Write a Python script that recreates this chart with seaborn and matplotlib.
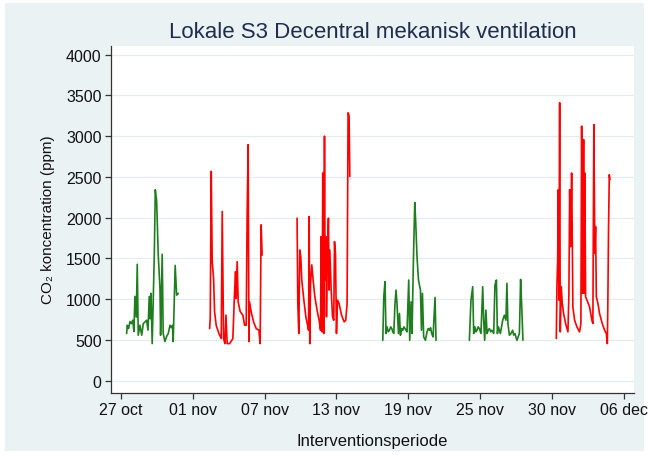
import numpy as np
import pandas as pd
import matplotlib
matplotlib.use("Agg")
import matplotlib.pyplot as plt
from matplotlib.patches import Rectangle
import seaborn as sns

# ---------------- data ----------------
title = "Lokale S3 Decentral mekanisk ventilation"
xlabel = "Interventionsperiode"
ylabel = "CO₂ koncentration (ppm)"
tick_labels = ["27 oct", "01 nov", "07 nov", "13 nov", "19 nov", "25 nov", "30 nov", "06 dec"]
y_ticks = [0, 500, 1000, 1500, 2000, 2500, 3000, 3500, 4000]

# week 1 (green)
g1_day = [0.62, 0.67, 0.78, 0.89, 1.00, 1.11, 1.21, 1.29, 1.40, 1.48, 1.56, 1.70, 1.84, 1.97,
          2.10, 2.24, 2.35, 2.45, 2.52, 2.59, 2.69, 2.86, 2.94, 3.05, 3.18, 3.32, 3.37, 3.50,
          3.58, 3.72, 3.85, 3.99, 4.13, 4.24, 4.34, 4.39, 4.55, 4.67, 4.80]
g1_co2 = [579, 680, 640, 726, 700, 742, 603, 1034, 780, 1428, 558, 680, 558, 701,
          720, 742, 620, 1034, 760, 1071, 455, 1542, 2343, 2203, 1542, 1132, 558, 1551,
          579, 480, 540, 579, 680, 650, 680, 480, 1415, 1050, 1071]

# week 2 (red)
r1_day = [7.34, 7.39, 7.47, 7.55, 7.66, 7.74, 7.87, 8.09, 8.28, 8.36, 8.47, 8.58, 8.66, 8.76,
          8.96, 9.22, 9.36, 9.44, 9.49, 9.57, 9.65, 9.81, 10.03, 10.17, 10.30, 10.38, 10.46,
          10.52, 10.57, 10.70, 10.90, 11.11, 11.33, 11.43, 11.51, 11.59]
r1_co2 = [640, 763, 2568, 1461, 1256, 846, 680, 579, 517, 2076, 517, 455, 804, 455,
          455, 517, 1091, 1338, 1009, 1461, 968, 850, 804, 680, 680, 2076, 2896,
          480, 968, 846, 722, 640, 619, 455, 1912, 1542]

# week 3 (red)
r2_day = [14.42, 14.48, 14.56, 14.64, 14.72, 14.80, 14.97, 15.13, 15.27, 15.35, 15.40, 15.45,
          15.51, 15.61, 15.72, 15.86, 16.04, 16.20, 16.32, 16.37, 16.45, 16.50, 16.58, 16.64,
          16.69, 16.75, 16.80, 16.88, 16.96, 17.01, 17.07, 17.18, 17.29, 17.39, 17.45, 17.53,
          17.61, 17.69, 17.82, 18.02, 18.23, 18.36, 18.47, 18.55, 18.63, 18.69]
r2_co2 = [1994, 948, 579, 1604, 1522, 1235, 989, 784, 680, 619, 2015, 455,
          1194, 1420, 1235, 1030, 865, 742, 619, 1768, 599, 2548, 579, 3000,
          1235, 1768, 784, 1563, 1994, 1112, 1604, 1112, 784, 742, 1707, 1563,
          579, 989, 948, 804, 722, 742, 948, 3287, 3250, 2507]

# week 4 (green)
g2_day = [21.36, 21.44, 21.54, 21.62, 21.71, 21.80, 21.90, 22.00, 22.09, 22.17, 22.25, 22.35,
          22.43, 22.51, 22.63, 22.71, 22.79, 22.88, 22.98, 23.07, 23.16, 23.24, 23.32, 23.46,
          23.54, 23.65, 23.73, 23.84, 23.95, 24.03, 24.13, 24.25, 24.41, 24.49, 24.57, 24.67,
          24.81, 24.94, 25.04, 25.14, 25.23, 25.32, 25.43, 25.59, 25.67]
g2_co2 = [496, 1030, 1215, 579, 660, 600, 619, 660, 640, 600, 579, 948,
          1112, 948, 579, 825, 558, 640, 619, 660, 640, 620, 599, 1235,
          496, 968, 579, 1481, 2187, 1933, 1522, 1235, 1112, 619, 1071, 537,
          496, 599, 640, 619, 650, 579, 537, 1022, 496]

# week 5 (green)
g3_day = [28.37, 28.50, 28.64, 28.72, 28.82, 28.90, 28.99, 29.08, 29.18, 29.31, 29.45, 29.53,
          29.61, 29.71, 29.80, 29.90, 29.99, 30.10, 30.20, 30.34, 30.44, 30.56, 30.64, 30.72,
          30.88, 31.07, 31.20, 31.33, 31.41, 31.49, 31.61, 31.74, 31.87, 31.96, 32.06, 32.22,
          32.42, 32.52, 32.60, 32.71]
g3_co2 = [496, 989, 1153, 579, 660, 600, 619, 660, 640, 579, 1153, 742,
          496, 865, 579, 620, 640, 600, 619, 579, 1173, 1235, 579, 660,
          579, 742, 804, 742, 1194, 701, 558, 579, 619, 560, 579, 496,
          579, 1243, 948, 496]

# week 6 (red)
r3_day = [35.41, 35.46, 35.52, 35.57, 35.62, 35.68, 35.73, 35.81, 35.89, 36.00, 36.16, 36.35,
          36.43, 36.49, 36.57, 36.65, 36.70, 36.75, 36.89, 37.08, 37.29, 37.40, 37.46, 37.54,
          37.62, 37.67, 37.72, 37.78, 37.89, 38.10, 38.29, 38.37, 38.45, 38.53, 38.59, 38.65,
          38.78, 38.91, 39.13, 39.32, 39.46, 39.54, 39.58, 39.64, 39.70, 39.75]
r3_co2 = [517, 1153, 1481, 2343, 989, 3410, 599, 1153, 948, 825, 701, 599,
          1071, 2343, 1645, 2548, 1810, 907, 742, 660, 599, 701, 3123, 1071,
          2958, 1071, 2548, 1030, 989, 907, 742, 701, 3143, 1563, 1891, 1030,
          948, 825, 701, 619, 579, 455, 907, 1891, 2527, 2466]

segments = [("uge1", g1_day, g1_co2, "green"),
            ("uge2", r1_day, r1_co2, "red"),
            ("uge3", r2_day, r2_co2, "red"),
            ("uge4", g2_day, g2_co2, "green"),
            ("uge5", g3_day, g3_co2, "green"),
            ("uge6", r3_day, r3_co2, "red")]

frames = []
for name, d, c, kind in segments:
    frames.append(pd.DataFrame({"day": d, "co2": c, "seg": name, "kind": kind}))
df = pd.concat(frames, ignore_index=True)

color_map = {"green": "#1E7D1E", "red": "#FF0000"}
palette = {name: color_map[kind] for name, _, _, kind in segments}

# ---------------- styling ----------------
sns.set_style("white")
plt.rcParams["font.family"] = ["Liberation Sans", "DejaVu Sans"]

W, H = 649, 456
fig = plt.figure(figsize=(W / 100, H / 100), dpi=100, facecolor="white")
bg = Rectangle((5 / W, 4 / H), (W - 10) / W, (H - 8) / H,
               transform=fig.transFigure, facecolor="#EAF2F3",
               edgecolor="none", zorder=-10)
fig.add_artist(bg)

left, right, bottom, top = 110.7, 634.0, 393.5, 46.5
ax = fig.add_axes([left / W, (H - bottom) / H, (right - left) / W, (bottom - top) / H])
ax.set_zorder(1)
ax.set_facecolor("white")

sns.lineplot(data=df, x="day", y="co2", hue="seg", palette=palette,
             estimator=None, sort=False, legend=False, ax=ax, linewidth=1.2)

tick_pos = [0.16 + 5.817 * i for i in range(len(tick_labels))]
ax.set_xlim(-0.67, 41.7)
ax.set_ylim(-145, 4113)
ax.set_xticks(tick_pos)
ax.set_xticklabels(tick_labels)
ax.set_yticks(y_ticks)
ax.set_yticklabels([str(v) for v in y_ticks])

ax.yaxis.grid(True, color="#E3ECEF", linewidth=0.9)
ax.xaxis.grid(False)
ax.set_axisbelow(True)

for s in ["top", "right"]:
    ax.spines[s].set_visible(False)
for s in ["left", "bottom"]:
    ax.spines[s].set_color("#333333")
    ax.spines[s].set_linewidth(0.9)

ax.tick_params(axis="both", which="major", direction="out", length=4.5, width=0.9,
               color="#333333", labelsize=11.5, labelcolor="#111111", pad=2,
               left=True, bottom=True)

ax.set_xlabel(xlabel, fontsize=12, color="#111111", labelpad=12)
ax.set_ylabel(ylabel, fontsize=11, color="#111111", labelpad=8)
fig.text((left + right) / 2 / W, 1 - 32 / H, title, ha="center", va="center",
         fontsize=16, color="#1F2D4E", zorder=2)

fig.savefig("out.png", dpi=100, facecolor=fig.get_facecolor())
